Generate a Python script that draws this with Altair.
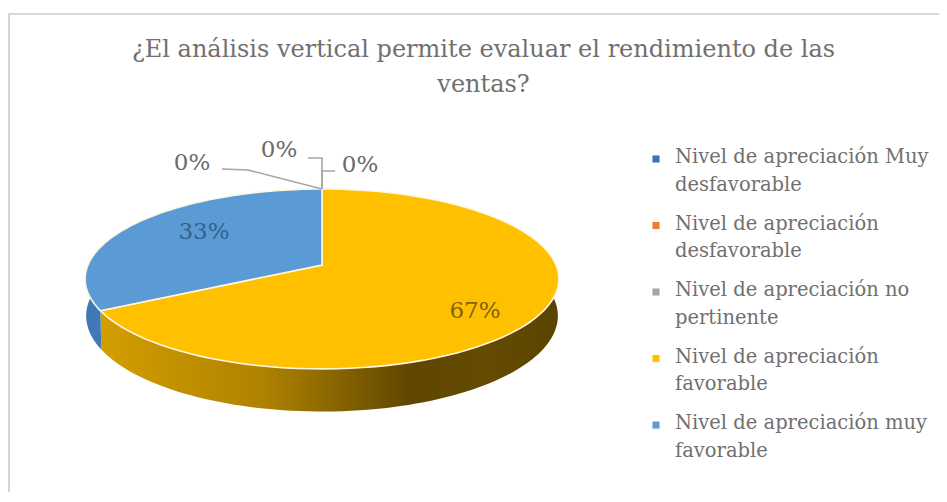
import math
import altair as alt
import pandas as pd

# ---- data ----
TITLE = ["¿El análisis vertical permite evaluar el rendimiento de las", "ventas?"]
CATEGORIES = [
    "Nivel de apreciación Muy desfavorable",
    "Nivel de apreciación desfavorable",
    "Nivel de apreciación no pertinente",
    "Nivel de apreciación favorable",
    "Nivel de apreciación muy favorable",
]
LEGEND_LINES = [
    "Nivel de apreciación Muy|desfavorable",
    "Nivel de apreciación|desfavorable",
    "Nivel de apreciación no|pertinente",
    "Nivel de apreciación|favorable",
    "Nivel de apreciación muy|favorable",
]
VALUES = [0, 0, 0, 67, 33]
COLORS = ["#3f6fb5", "#ed7d31", "#a5a5a5", "#ffc000", "#5b9bd5"]

# ---- layout (page pixels) ----
FONT = "DejaVu Serif"
W, H, PAD_TOP = 931, 384, 100
OX, OY = 8, 8 + PAD_TOP
CX, CY, BX, AY, K = 322, 265, 234, 87.8, 0.155
DEPTH = 36
BX2 = 233


def rim(t, lower=False):
    """Perspective projection of a pie rim point; t = clockwise angle from top."""
    u, v = math.sin(t), math.cos(t)
    d = 1 + K * v
    bx = BX2 if lower else BX
    x = CX + bx * u / d
    y = CY - AY * v / d + (DEPTH / d if lower else 0)
    return [x - OX, y - OY]


def arc(t0, t1, lower=False, n=90):
    return [rim(t0 + (t1 - t0) * i / n, lower) for i in range(n + 1)]


def feature(ring, cat):
    ring = ring + [ring[0]]
    return {"type": "Feature", "properties": {"cat": cat},
            "geometry": {"type": "Polygon", "coordinates": [ring]}}


total = sum(VALUES)
edges = [0.0]
for v in VALUES:
    edges.append(edges[-1] + v / total * 2 * math.pi)

centre = [CX - OX, CY - OY]
faces = []
for cat, v, a0, a1 in zip(CATEGORIES, VALUES, edges[:-1], edges[1:]):
    if v > 0:
        faces.append(feature([centre] + arc(a0, a1), cat))

split = edges[4]
side_start, side_end = math.radians(82), math.radians(279)
gold_side = feature(arc(side_start, split) + arc(split, side_start, True), "gold")
blue_side = feature(arc(split, side_end) + arc(side_end, split, True), "blue")

PROJ = dict(type="identity", scale=1, translate=[0, 0])
color_scale = alt.Scale(domain=CATEGORIES, range=COLORS)

side_gold = alt.Chart(alt.Data(values=[gold_side])).mark_geoshape(
    filled=True, strokeWidth=0,
    fill=alt.Gradient(
        gradient="linear", x1=0, x2=1, y1=0, y2=0,
        stops=[
            alt.GradientStop(offset=0, color="#d39e00"),
            alt.GradientStop(offset=0.35, color="#b08300"),
            alt.GradientStop(offset=0.68, color="#5f4600"),
            alt.GradientStop(offset=0.85, color="#654b00"),
            alt.GradientStop(offset=1, color="#5a4300"),
        ],
    ),
).project(**PROJ)

side_blue = alt.Chart(alt.Data(values=[blue_side])).mark_geoshape(
    filled=True, strokeWidth=0, fill="#3f79b8"
).project(**PROJ)

top = alt.Chart(alt.Data(values=faces)).mark_geoshape(
    filled=True, stroke="#fff6e0", strokeWidth=1.6
).encode(
    color=alt.Color("properties.cat:N", scale=color_scale, legend=None)
).project(**PROJ)

frame_top = alt.Chart(pd.DataFrame({"a": [0]})).mark_rule(color="#d9d9d9", size=2).encode(
    x=alt.value(0), x2=alt.value(W), y=alt.value(14 - OY)
)
frame_left = alt.Chart(pd.DataFrame({"a": [0]})).mark_rule(color="#d4d4d4", size=2).encode(
    x=alt.value(9 - OX), y=alt.value(14 - OY), y2=alt.value(H)
)

LEADER_COLOR = "#a6a6a6"
def leader(points):
    df = pd.DataFrame({"i": range(len(points)),
                       "x": [p[0] - OX for p in points],
                       "y": [p[1] - OY for p in points]})
    sc_x = alt.Scale(domain=[0, W], range=[0, W], nice=False, zero=False)
    sc_y = alt.Scale(domain=[-PAD_TOP, H], range=[-PAD_TOP, H], nice=False, zero=False)
    return alt.Chart(df).mark_line(color=LEADER_COLOR, strokeWidth=1.6).encode(
        x=alt.X("x:Q", scale=sc_x, axis=None),
        y=alt.Y("y:Q", scale=sc_y, axis=None),
        order="i:Q",
    )

leaders = [
    leader([(322, 189), (248, 170), (222, 169)]),
    leader([(322, 189), (322, 158), (308, 158)]),
    leader([(322, 189), (322, 171), (335, 171)]),
]


def pie_label(text, x, y, color, size=23):
    return alt.Chart(pd.DataFrame({"t": [text]})).mark_text(
        font=FONT, fontSize=size, color=color, align="center", baseline="middle"
    ).encode(x=alt.value(x - OX), y=alt.value(y - OY), text="t:N")


labels = [
    pie_label("0%", 192, 163, "#6a6a6a"),
    pie_label("0%", 279, 150, "#6a6a6a"),
    pie_label("0%", 360, 165, "#6a6a6a"),
    pie_label("33%", 204, 232, "#33608f"),
    pie_label("67%", 475, 311, "#7d6210"),
]

legend_df = pd.DataFrame({"cat": CATEGORIES, "line": LEGEND_LINES})
legend_scale = alt.Scale(type="point", domain=CATEGORIES, range=[159 - OY, 425 - OY], padding=0)
legend_pts = alt.Chart(legend_df).mark_square(size=50, opacity=1).encode(
    x=alt.value(656 - OX),
    y=alt.Y("cat:N", axis=None, scale=legend_scale),
    color=alt.Color("cat:N", scale=color_scale, legend=None),
)
legend_txt = alt.Chart(legend_df).mark_text(
    font=FONT, fontSize=19.5, color="#707070", align="left", baseline="alphabetic",
    lineBreak="|", lineHeight=27.5, dy=4,
).encode(
    x=alt.value(675 - OX),
    y=alt.Y("cat:N", axis=None, scale=legend_scale),
    text="line:N",
)

chart = alt.layer(
    frame_top, frame_left, side_gold, side_blue, top, *leaders, *labels, legend_pts, legend_txt
).resolve_scale(x="independent", y="independent", color="independent").properties(
    width=W, height=H,
    padding={"left": 0, "top": PAD_TOP, "right": 0, "bottom": 0},
    autosize=alt.AutoSizeParams(type="none"),
    title=alt.TitleParams(
        text=TITLE, font=FONT, fontSize=24, fontWeight="normal", color="#707070",
        anchor="middle", dx=10, lineHeight=35, offset=-84,
    ),
).configure_view(stroke=None)

chart.save("out.html", embed_options={"renderer": "svg", "actions": False})
